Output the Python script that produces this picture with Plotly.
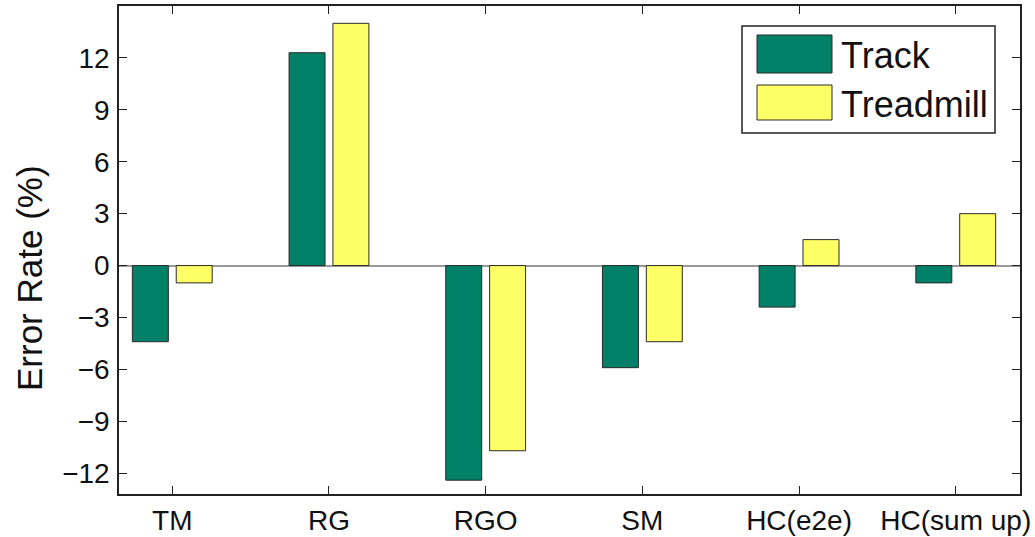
import plotly.graph_objects as go

# Error rate of each step-counting method, by test setting
methods = ["TM", "RG", "RGO", "SM", "HC(e2e)", "HC(sum up)"]
track = [-4.4, 12.3, -12.4, -5.9, -2.4, -1.0]
treadmill = [-1.0, 14.0, -10.7, -4.4, 1.5, 3.0]
y_ticks = [-12, -9, -6, -3, 0, 3, 6, 9, 12]
series_names = ["Track", "Treadmill"]

GREEN = "#008066"
YELLOW = "#ffff66"
FONT = "Liberation Sans, Arial, Helvetica, sans-serif"

W, H = 1035, 537
ML, MR, MT, MB = 119, 15, 6, 43
PW, PH = W - ML - MR, H - MT - MB


def px(x):
    return (x - ML) / PW


def py(y):
    return (H - MB - y) / PH


fig = go.Figure()
for name, vals, col in [(series_names[0], track, GREEN), (series_names[1], treadmill, YELLOW)]:
    fig.add_trace(go.Bar(
        x=methods, y=vals, name=name,
        marker=dict(color=col, line=dict(color="#2a2a2a", width=1)),
        showlegend=False,
    ))

axis_common = dict(
    showline=True, linecolor="#222", linewidth=1.5, mirror="allticks",
    ticks="inside", ticklen=8, tickcolor="#222", showgrid=False,
    automargin=False,
)

fig.update_layout(
    width=W, height=H,
    margin=dict(l=ML, r=MR, t=MT, b=MB),
    paper_bgcolor="white", plot_bgcolor="white",
    barmode="group", bargap=0.44, bargroupgap=0.18,
    xaxis=dict(type="category", range=[-0.34, 5.41], zeroline=False,
               ticklabelstandoff=1,
               tickfont=dict(family=FONT, size=28, color="#111"),
               **axis_common),
    yaxis=dict(range=[-13.2, 15], tickvals=y_ticks,
               ticktext=[str(v).replace("-", "\u2212") for v in y_ticks],
               zeroline=True, zerolinecolor="#9a9a9a", zerolinewidth=2,
               ticklabelstandoff=2,
               tickfont=dict(family=FONT, size=28, color="#111"),
               **axis_common),
    font=dict(family=FONT, color="#111"),
)

# y-axis title
fig.add_annotation(text="Error Rate (%)", textangle=-90, showarrow=False,
                   xref="paper", yref="paper", x=px(29), y=py(278),
                   xanchor="center", yanchor="middle",
                   font=dict(family=FONT, size=35, color="#111"))

# legend box with large swatches
fig.add_shape(type="rect", xref="paper", yref="paper",
              x0=px(742), x1=px(995), y0=py(133), y1=py(26),
              line=dict(color="#222", width=1.5), fillcolor="white", layer="above")
for (name, col), (top, bot) in zip([(series_names[0], GREEN), (series_names[1], YELLOW)],
                                   [(35, 73), (85, 120)]):
    fig.add_shape(type="rect", xref="paper", yref="paper",
                  x0=px(757), x1=px(832), y0=py(bot), y1=py(top),
                  line=dict(color="#2a2a2a", width=1), fillcolor=col, layer="above")
    fig.add_annotation(text=name, showarrow=False, xref="paper", yref="paper",
                       x=px(839), y=py((top + bot) / 2 + 2),
                       xanchor="left", yanchor="middle",
                       font=dict(family=FONT, size=36, color="#111"))

fig.write_html("out.html")
